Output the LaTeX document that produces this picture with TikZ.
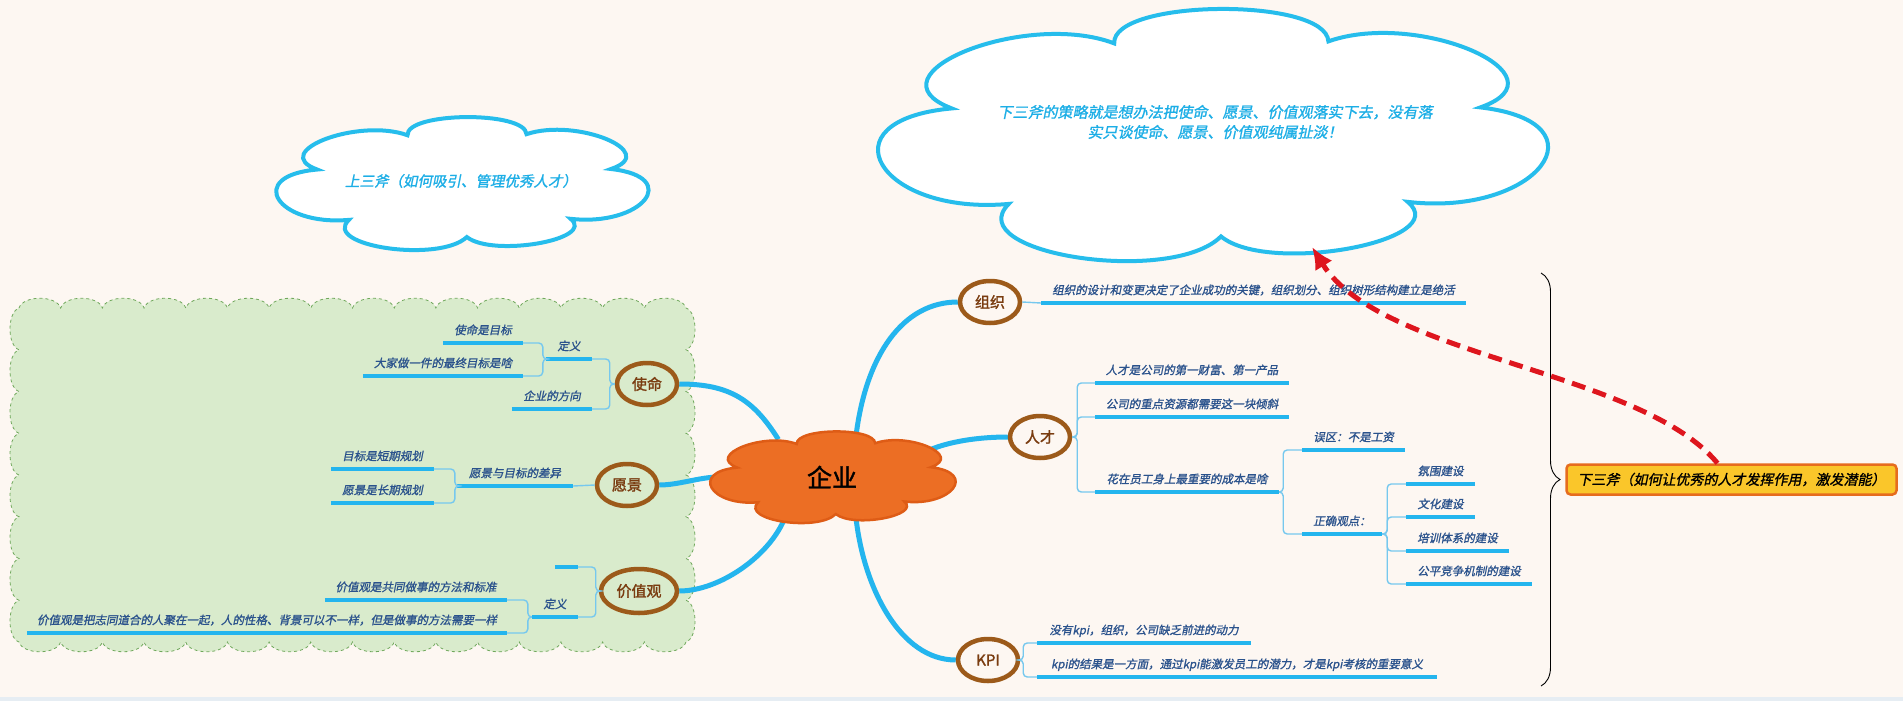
\documentclass[tikz,border=0pt]{standalone}
\usepackage{fontspec}
\usepackage{tikz}
\usetikzlibrary{shapes.geometric, arrows.meta, decorations.pathreplacing, positioning}
\newfontfamily\cjk[FakeSlant=0.2,FakeBold=1.2]{Noto Sans CJK SC}
\newfontfamily\cjkbf[FakeBold=1.6]{Noto Sans CJK SC}
\definecolor{papercream}{RGB}{253,247,242}
\definecolor{stripgray}{RGB}{230,237,243}
\definecolor{leafgreen}{RGB}{217,235,204}
\definecolor{leafedge}{RGB}{112,168,92}
\definecolor{skyblue}{RGB}{36,181,238}
\definecolor{linkblue}{RGB}{118,200,238}
\definecolor{inkblue}{RGB}{42,82,140}
\definecolor{cloudblue}{RGB}{38,189,236}
\definecolor{cloudtext}{RGB}{28,174,230}
\definecolor{ringbrown}{RGB}{156,90,26}
\definecolor{textbrown}{RGB}{122,60,16}
\definecolor{coreorange}{RGB}{236,110,36}
\definecolor{coreedge}{RGB}{222,92,22}
\definecolor{noteyellow}{RGB}{250,198,42}
\definecolor{noteedge}{RGB}{230,108,30}
\definecolor{dashred}{RGB}{222,22,30}
\pgfdeclarelayer{ground}
\pgfdeclarelayer{links}
\pgfsetlayers{ground,links,main}
% cloud outline in a 100 x 100 box, y downwards
\tikzset{puffcloud/.pic={
  \path[pic actions] (10.5,40.4) .. controls (-3.0,27.2) and (21.8,1.8) .. (35.3,15)
    .. controls (34.9,-2.4) and (67.6,-3.2) .. (68,14.2)
    .. controls (81.75,1.8) and (104.95,27.6) .. (91.2,40)
    .. controls (110.9,45.9) and (99.8,82.8) .. (80.1,76.9)
    .. controls (87.3,92.1) and (58.8,105.6) .. (51.6,90.4)
    .. controls (44,109.8) and (11.6,97.1) .. (19.2,77.7)
    .. controls (-0.7,82.3) and (-9.4,45) .. (10.5,40.4) -- cycle;
  \coordinate (-tip) at (65.5,94.5);
}}

\begin{document}
\begin{tikzpicture}[x=1pt, y=-1pt,
  branch/.style={draw=skyblue, line width=5pt},
  link/.style={draw=linkblue, line width=1.4pt, rounded corners=4pt},
  uline/.style={draw=skyblue, line width=4.5pt},
  leaf/.style={anchor=south, font=\cjk\fontsize{11.5}{13}\selectfont, text=inkblue,
    inner xsep=0pt, inner ysep=6.5pt, text height=10pt, text depth=2pt,
    append after command={(\tikzlastnode.south west) edge[uline] (\tikzlastnode.south east)}},
  topic/.style={ellipse, draw=ringbrown, line width=4.5pt, minimum width=60pt, minimum height=42pt,
    inner sep=0pt, font=\cjkbf\fontsize{15}{18}\selectfont, text=textbrown},
  thought/.style={draw=cloudblue, line width=4pt, fill=white},
  thoughttext/.style={text=cloudtext, align=center, font=\cjk\fontsize{14.5}{20}\selectfont}]

  \useasboundingbox (0,0) rectangle (1903,701);
  \begin{pgfonlayer}{ground}
    \fill[papercream] (0,0) rectangle (1903,701);
    \fill[stripgray] (0,697) rectangle (1903,701);
    % scalloped area
    \filldraw[fill=leafgreen, draw=leafedge, dashed, line width=0.8pt] (19,308)
      \foreach \i in {0,...,15}{ .. controls ({19+(\i+0.1)*41.69},295) and ({19+(\i+0.9)*41.69},295) .. ({19+(\i+1)*41.69},308) }
      \foreach \i in {0,...,7}{ .. controls (698,{308+(\i+0.1)*41.75}) and (698,{308+(\i+0.9)*41.75}) .. (686,{308+(\i+1)*41.75}) }
      \foreach \i in {0,...,15}{ .. controls ({686-(\i+0.1)*41.69},655) and ({686-(\i+0.9)*41.69},655) .. ({686-(\i+1)*41.69},642) }
      \foreach \i in {0,...,7}{ .. controls (7,{642-(\i+0.1)*41.75}) and (7,{642-(\i+0.9)*41.75}) .. (19,{642-(\i+1)*41.75}) }
      -- cycle;
  \end{pgfonlayer}

  % clouds
  \pic[thought, xscale=3.64, yscale=1.35] (upcloud) at (279,115) {puffcloud};
  \node[thoughttext] (uptext) at (461,181) {上三斧（如何吸引、管理优秀人才）};
  \pic[thought, xscale=6.55, yscale=2.56] (bigcloud) at (883,5) {puffcloud};
  \node[thoughttext, font=\cjk\fontsize{15}{20}\selectfont] (bigtext) at (1215,122)
    {下三斧的策略就是想办法把使命、愿景、价值观落实下去，没有落\\实只谈使命、愿景、价值观纯属扯淡！};
  \pic[fill=coreorange, draw=coreedge, line width=2.5pt, xscale=2.4, yscale=0.93] (qiyecloud) at (712,430) {puffcloud};
  \node[ellipse, minimum width=225pt, minimum height=85pt, font=\cjkbf\fontsize{25}{30}\selectfont] (qiye) at (832,477) {企业};

  \node[topic] (zuzhi) at (990,302) {组织};
  \node[topic] (rencai) at (1040,437) {人才};
  \node[topic] (kpi) at (988,660) {KPI};
  \node[topic] (shiming) at (647,384) {使命};
  \node[topic] (yuanjing) at (627,485) {愿景};
  \node[topic, minimum width=76pt, minimum height=44pt] (jiazhi) at (639,591) {价值观};

  \begin{pgfonlayer}{links}
    \draw[branch] (qiye.60) .. controls +(10,-80) and +(-55,0) .. (zuzhi.west);
    \draw[branch] (qiye.15) .. controls +(25,-12) and +(-25,0) .. (rencai.west);
    \draw[branch] (qiye.-60) .. controls +(8,70) and +(-55,0) .. (kpi.west);
    \draw[branch] (qiye.145) .. controls +(-25,-40) and +(50,0) .. (shiming.east);
    \draw[branch] (qiye.180) .. controls +(-20,0) and +(20,0) .. (yuanjing.east);
    \draw[branch] (qiye.-140) .. controls +(-15,40) and +(40,0) .. (jiazhi.east);
  \end{pgfonlayer}

  % 组织 / 人才 / KPI
  \node[leaf, minimum width=425pt] (z1) at (1253.5,303) {组织的设计和变更决定了企业成功的关键，组织划分、组织树形结构建立是绝活};
  \node[leaf, minimum width=194pt] (r1) at (1192,383) {人才是公司的第一财富、第一产品};
  \node[leaf, minimum width=194pt] (r2) at (1192,417) {公司的重点资源都需要这一块倾斜};
  \node[leaf, minimum width=184pt] (r3) at (1187,492) {花在员工身上最重要的成本是啥};
  \node[leaf, minimum width=103pt] (wuqu) at (1353.5,450) {误区：不是工资};
  \node[leaf, minimum width=80pt] (zhengque) at (1342,534) {正确观点：};
  \node[leaf, minimum width=69pt] (b1) at (1440.5,484) {氛围建设};
  \node[leaf, minimum width=69pt] (b2) at (1440.5,517) {文化建设};
  \node[leaf, minimum width=103pt] (b3) at (1457.5,551) {培训体系的建设};
  \node[leaf, minimum width=126pt] (b4) at (1469,584) {公平竞争机制的建设};
  \node[leaf, minimum width=214pt] (k1) at (1144,643) {没有kpi，组织，公司缺乏前进的动力};
  \node[leaf, minimum width=400pt] (k2) at (1237,677) {kpi的结果是一方面，通过kpi能激发员工的潜力，才是kpi考核的重要意义};

  \draw[link] (zuzhi.east) -- (z1.south west);
  \foreach \c in {r1,r2,r3} \draw[link] (rencai.east) -- ++(5,0) |- (\c.south west);
  \foreach \c in {wuqu,zhengque} \draw[link] (r3.south east) -- ++(4,0) |- (\c.south west);
  \foreach \c in {b1,b2,b3,b4} \draw[link] (zhengque.south east) -- ++(5,0) |- (\c.south west);
  \foreach \c in {k1,k2} \draw[link] (kpi.east) -- ++(3,0) |- (\c.south west);

  % 使命 / 愿景 / 价值观
  \node[leaf, minimum width=46pt] (m0) at (569,359) {定义};
  \node[leaf, minimum width=80pt] (m1) at (483,343) {使命是目标};
  \node[leaf, minimum width=160pt] (m2) at (443,376) {大家做一件的最终目标是啥};
  \node[leaf, minimum width=80pt] (m3) at (552,409) {企业的方向};
  \node[leaf, minimum width=116pt] (v0) at (515,486) {愿景与目标的差异};
  \node[leaf, minimum width=103pt] (v1) at (382.5,469) {目标是短期规划};
  \node[leaf, minimum width=103pt] (v2) at (382.5,503) {愿景是长期规划};
  \node[leaf, minimum width=23pt] (j0) at (566.5,567) {};
  \node[leaf, minimum width=46pt] (j1) at (555,617) {定义};
  \node[leaf, minimum width=182pt] (j2) at (416,600) {价值观是共同做事的方法和标准};
  \node[leaf, minimum width=480pt] (j3) at (267,633) {价值观是把志同道合的人聚在一起，人的性格、背景可以不一样，但是做事的方法需要一样};

  \foreach \c in {m0,m3} \draw[link] (shiming.west) -- ++(-5,0) |- (\c.south east);
  \foreach \c in {m1,m2} \draw[link] (m0.south west) -- ++(-3,0) |- (\c.south east);
  \draw[link] (yuanjing.west) -- (v0.south east);
  \foreach \c in {v1,v2} \draw[link] (v0.south west) -- ++(-2,0) |- (\c.south east);
  \foreach \c in {j0,j1} \draw[link] (jiazhi.west) -- ++(-3,0) |- (\c.south east);
  \foreach \c in {j2,j3} \draw[link] (j1.south west) -- ++(-4,0) |- (\c.south east);

  % 下三斧
  \coordinate (bracetop) at (1541,273);
  \coordinate (bracebot) at (1541,686);
  \draw[decorate, decoration={brace, amplitude=19pt}, line width=0.9pt] (bracetop) -- (bracebot);
  \node[draw=noteedge, fill=noteyellow, line width=2.5pt, rounded corners=4pt, minimum width=330pt,
    minimum height=30pt, font=\cjk\fontsize{14}{16}\selectfont] (lower) at (1731.5,479.5)
    {下三斧（如何让优秀的人才发挥作用，激发潜能）};
  \draw[dashred, line width=5pt, dash pattern=on 14pt off 8pt, -{Latex[length=22pt,width=20pt]}]
    ([xshift=-14pt]lower.north) .. controls +(-77,-93) and +(68,110) .. (bigcloud-tip);
\end{tikzpicture}
\end{document}
